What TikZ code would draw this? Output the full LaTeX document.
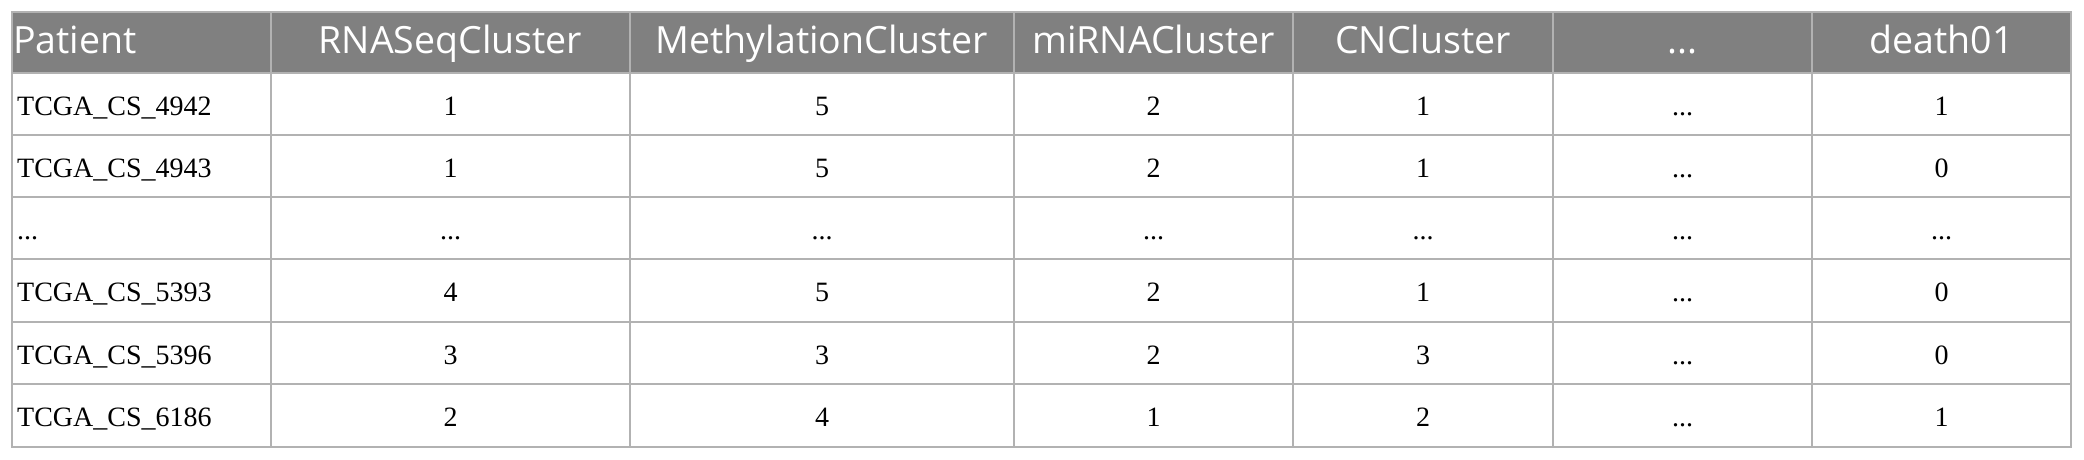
\documentclass[tikz,border=0pt]{standalone}
\usepackage{fontspec}
\setmainfont{Liberation Serif}
\newfontfamily\hdrfont{Open Sans}
\newcommand\myell{...}
\definecolor{hdrgray}{RGB}{128,128,128}
\definecolor{gridgray}{RGB}{178,178,178}
\tikzset{
  hdr/.style={anchor=base, inner sep=0pt, text=white, font=\hdrfont\fontsize{37.5}{40}\selectfont},
  hdrleft/.style={hdr, anchor=base west},
  cell/.style={anchor=base, inner sep=0pt, text=black, font=\fontsize{28}{30}\selectfont},
  cellleft/.style={cell, anchor=base west},
  gridline/.style={draw=gridgray, line width=2pt},
}
\begin{document}
\begin{tikzpicture}[x=1pt,y=-1pt]
\useasboundingbox[fill=white] (0,0) rectangle (2084,459);
% header background
\fill[hdrgray] (12,12) rectangle (2071,73);
% grid
\foreach \yy in {73,135,197,259,322,384}
  \draw[gridline] (12,\yy) -- (2071,\yy);
\foreach \xx in {271,630,1014,1293,1553,1812}
  \draw[gridline] (\xx,12) -- (\xx,447);
\draw[gridline] (12,12) rectangle (2071,447);
% header texts
\node[hdrleft] (h0) at (13,53) {Patient};
\node[hdr] (h1) at (450.5,53) {RNASeqCluster};
\node[hdr] (h2) at (822,53) {MethylationCluster};
\node[hdr] (h3) at (1153.5,53) {miRNACluster};
\node[hdr] (h4) at (1423,53) {CNCluster};
\node[hdr] (h5) at (1682.5,53) {\myell};
\node[hdr] (h6) at (1941.5,53) {death01};
% body
\foreach \r/\yb/\p/\a/\b/\c/\d/\e/\f in {
  1/115/TCGA\_CS\_4942/1/5/2/1/\myell/1,
  2/177/TCGA\_CS\_4943/1/5/2/1/\myell/0,
  3/239/\myell/\myell/\myell/\myell/\myell/\myell/\myell,
  4/301/TCGA\_CS\_5393/4/5/2/1/\myell/0,
  5/364/TCGA\_CS\_5396/3/3/2/3/\myell/0,
  6/426/TCGA\_CS\_6186/2/4/1/2/\myell/1}{
  \node[cellleft] (r\r c0) at (17,\yb) {\p};
  \node[cell] (r\r c1) at (450.5,\yb) {\a};
  \node[cell] (r\r c2) at (822,\yb) {\b};
  \node[cell] (r\r c3) at (1153.5,\yb) {\c};
  \node[cell] (r\r c4) at (1423,\yb) {\d};
  \node[cell] (r\r c5) at (1682.5,\yb) {\e};
  \node[cell] (r\r c6) at (1941.5,\yb) {\f};
}
\end{tikzpicture}
\end{document}
